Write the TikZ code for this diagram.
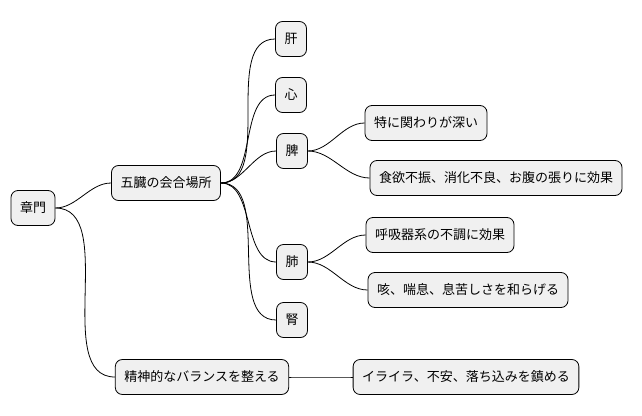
\documentclass[tikz,border=0pt]{standalone}
\usepackage{fontspec}
\setmainfont{Noto Sans CJK JP}
\begin{document}
\begin{tikzpicture}[x=1pt,y=-1pt,
  box/.style={draw=black,fill=black!6,rounded corners=7pt,minimum height=35pt,inner xsep=9pt,font=\fontsize{13}{15}\selectfont,line width=0.8pt},
  link/.style={draw=black,line width=0.8pt,out=0,in=180,looseness=0.9}]
\useasboundingbox (0,0) rectangle (642,415);
\node[box] (a) at (33,208) {章門};
\node[box] (b) at (166,183) {五臓の会合場所};
\node[box] (c1) at (291,39) {肝};
\node[box] (c2) at (291,95) {心};
\node[box] (c3) at (292,151) {脾};
\node[box] (d1) at (426,123) {特に関わりが深い};
\node[box] (d2) at (496,178) {食欲不振、消化不良、お腹の張りに効果};
\node[box] (c4) at (292,262) {肺};
\node[box] (e1) at (440,235) {呼吸器系の不調に効果};
\node[box] (e2) at (468,290) {咳、喘息、息苦しさを和らげる};
\node[box] (c5) at (292,320) {腎};
\node[box] (f) at (202,377) {精神的なバランスを整える};
\node[box] (g) at (466,377) {イライラ、不安、落ち込みを鎮める};
\foreach \p/\q in {a/b,a/f,b/c1,b/c2,b/c3,b/c4,b/c5,c3/d1,c3/d2,c4/e1,c4/e2,f/g}
  \draw[link] (\p.east) to (\q.west);
\end{tikzpicture}
\end{document}
